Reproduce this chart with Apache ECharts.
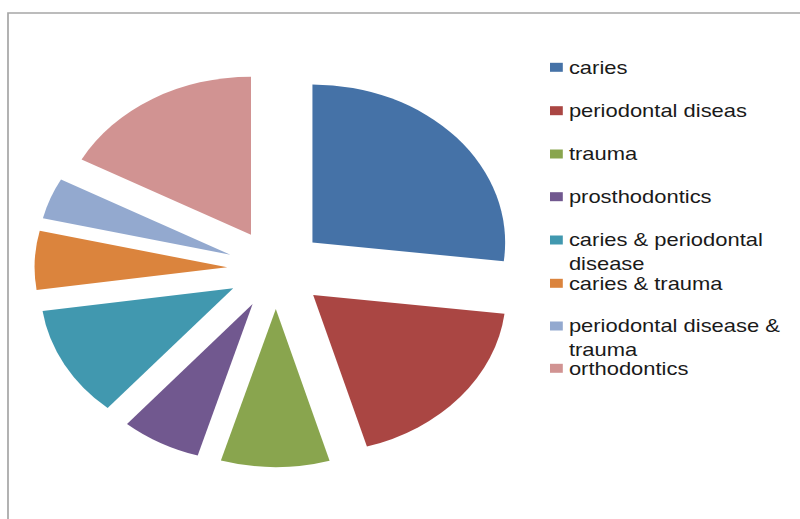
<!DOCTYPE html>
<html>
<head>
<meta charset="utf-8">
<script src="https://cdn.jsdelivr.net/npm/echarts@6/dist/echarts.min.js"></script>
<style>
  html, body { margin: 0; padding: 0; background: #ffffff; overflow: hidden; width: 800px; height: 519px; }
  #chart { width: 656px; height: 519px; transform: scaleX(1.219512); transform-origin: 0 0; }
</style>
</head>
<body>
<div id="chart"></div>
<script>
// Data (percent share of each diagnosis)
const categories = [
  'caries',
  'periodontal diseas',
  'trauma',
  'prosthodontics',
  'caries & periodontal disease',
  'caries & trauma',
  'periodontal disease & trauma',
  'orthodontics'
];
const values = [26.9, 18.6, 9.1, 6.7, 11.4, 6.0, 4.2, 17.1];
// wrapped legend labels (leading blank line keeps the icon on the first text line)
const legendLabels = [
  'caries',
  'periodontal diseas',
  'trauma',
  'prosthodontics',
  '\ncaries & periodontal\ndisease',
  'caries & trauma',
  '\nperiodontal disease &\ntrauma',
  'orthodontics'
];
const colors = ['#4572A7', '#AA4643', '#89A54E', '#71588F', '#4198AF', '#DB843D', '#93A9CF', '#D19392'];

// legend layout (icon-centre rows of the reference)
const legendTops = [55.3, 98.7, 142, 184.7, 204, 271.3, 290, 356.3];

const chart = echarts.init(document.getElementById('chart'), null, { renderer: 'svg' });

const legends = categories.map((name, i) => ({
  data: [name],
  orient: 'vertical',
  left: 451,
  top: legendTops[i],
  padding: 0,
  itemWidth: 10.5,
  itemHeight: 9,
  icon: 'rect',
  selectedMode: false,
  formatter: () => legendLabels[i],
  textStyle: {
    fontFamily: 'Liberation Sans, Arial, sans-serif',
    fontSize: 18,
    color: '#1a1a1a',
    lineHeight: 24
  }
}));

chart.setOption({
  animation: false,
  backgroundColor: '#ffffff',
  color: colors,
  legend: legends,
  graphic: [{
    type: 'rect',
    shape: { x: 6.56, y: 13, width: 700, height: 600 },
    style: { fill: 'none', stroke: '#a6a6a6', lineWidth: 1.4 },
    silent: true
  }],
  series: [{
    type: 'pie',
    center: [226.3, 269],
    radius: [0, 158],
    startAngle: 90,
    clockwise: true,
    selectedMode: 'multiple',
    selectedOffset: 40,
    avoidLabelOverlap: false,
    label: { show: false },
    labelLine: { show: false },
    emphasis: { scale: false },
    itemStyle: { borderWidth: 0 },
    data: categories.map((name, i) => ({ name: name, value: values[i], selected: true }))
  }]
});
</script>
</body>
</html>
